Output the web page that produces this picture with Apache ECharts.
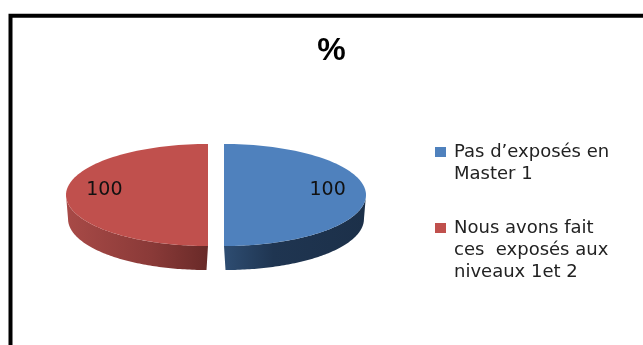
<!DOCTYPE html>
<html><head><meta charset="utf-8">
<style>html,body{margin:0;padding:0;background:#fff}#c{width:643px;height:345px}</style>
<script src="https://cdn.jsdelivr.net/npm/echarts@6/dist/echarts.min.js"></script>
</head><body><div id="c"></div>
<script>
const categories = ["Pas d’exposés en Master 1", "Nous avons fait ces  exposés aux niveaux 1et 2"];
const legendLines = [["Pas d’exposés en", "Master 1"], ["Nous avons fait", "ces  exposés aux", "niveaux 1et 2"]];
const values = [100, 100];
const labels = ["100", "100"];
const titleText = "%";
const topColors = ["#4F81BD", "#C0504D"];
const sideStops = [
  [[0, "#2E4D72"], [0.35, "#1F3551"], [1, "#1C3049"]],
  [[0, "#A84A47"], [0.6, "#8A3A38"], [1, "#692A28"]]
];

const total = values.reduce((a, b) => a + b, 0);
const RX = 142, RY = 51, DEPTH = 24, CY = 195, CX = 216, GAP = 8;

function sliceRender(idx) {
  return function (params, api) {
    let before = 0;
    for (let i = 0; i < idx; i++) before += values[i];
    const a0 = before / total * 2 * Math.PI;
    const a1 = (before + values[idx]) / total * 2 * Math.PI;
    const mid = (a0 + a1) / 2;
    const cx = CX + GAP * Math.sin(mid);
    const cxB = CX + (GAP + 1.5) * Math.sin(mid);
    const pt = t => [cx + RX * Math.sin(t), CY - RY * Math.cos(t)];
    const ptB = t => [cxB + RX * 0.975 * Math.sin(t), CY + DEPTH - RY * Math.cos(t)];
    const top = [], side = [];
    const N = 90;
    top.push([cx, CY]);
    for (let i = 0; i <= N; i++) top.push(pt(a0 + (a1 - a0) * i / N));
    const s0 = Math.max(a0, Math.PI / 2), s1 = Math.min(a1, 3 * Math.PI / 2);
    for (let i = 0; i <= N; i++) side.push(pt(s0 + (s1 - s0) * i / N));
    for (let i = N; i >= 0; i--) side.push(ptB(s0 + (s1 - s0) * i / N));
    const labelPt = [cx + RX * 0.73 * Math.sin(mid), CY - 5];
    return {
      type: 'group',
      children: [
        { type: 'polygon', shape: { points: side }, style: {
            fill: new echarts.graphic.LinearGradient(0, 0, 1, 0,
              sideStops[idx].map(s => ({ offset: s[0], color: s[1] }))) } },
        { type: 'polygon', shape: { points: top }, style: { fill: topColors[idx] } },
        { type: 'text', x: labelPt[0], y: labelPt[1], style: {
            text: labels[idx], fill: '#111', align: 'center', verticalAlign: 'middle',
            font: '19px "DejaVu Sans"' } }
      ]
    };
  };
}

const chart = echarts.init(document.getElementById('c'), null, { renderer: 'canvas' });
chart.setOption({
  animation: false,
  backgroundColor: '#fff',
  title: { text: titleText, left: 326.5, top: 30, textAlign: 'center',
    textStyle: { fontFamily: 'Liberation Sans', fontWeight: 'bold', fontSize: 32, color: '#000' } },
  legend: categories.map((name, i) => ({
    data: [name], left: 430, top: [114, 168][i], orient: 'vertical',
    selectedMode: false, icon: 'rect', itemWidth: 11, itemHeight: 10, itemGap: 8,
    formatter: () => {
      const l = legendLines[i];
      return new Array(l.length - 1).fill('').concat(l).join('\n');
    },
    textStyle: { fontFamily: 'DejaVu Sans', fontSize: 18, lineHeight: 22, color: '#222', padding: [0, 0, 0, 3] }
  })),
  series: categories.map((name, i) => ({
    type: 'custom', name, coordinateSystem: 'none', silent: true,
    itemStyle: { color: topColors[i] },
    data: [values[i]],
    renderItem: sliceRender(i)
  })),
  graphic: [
    { type: 'polyline', silent: true, shape: { points: [[10.5, 345], [10.5, 15.75], [643, 15.75]] },
      style: { stroke: '#000', lineWidth: 4, fill: null } }
  ]
});
</script></body></html>
